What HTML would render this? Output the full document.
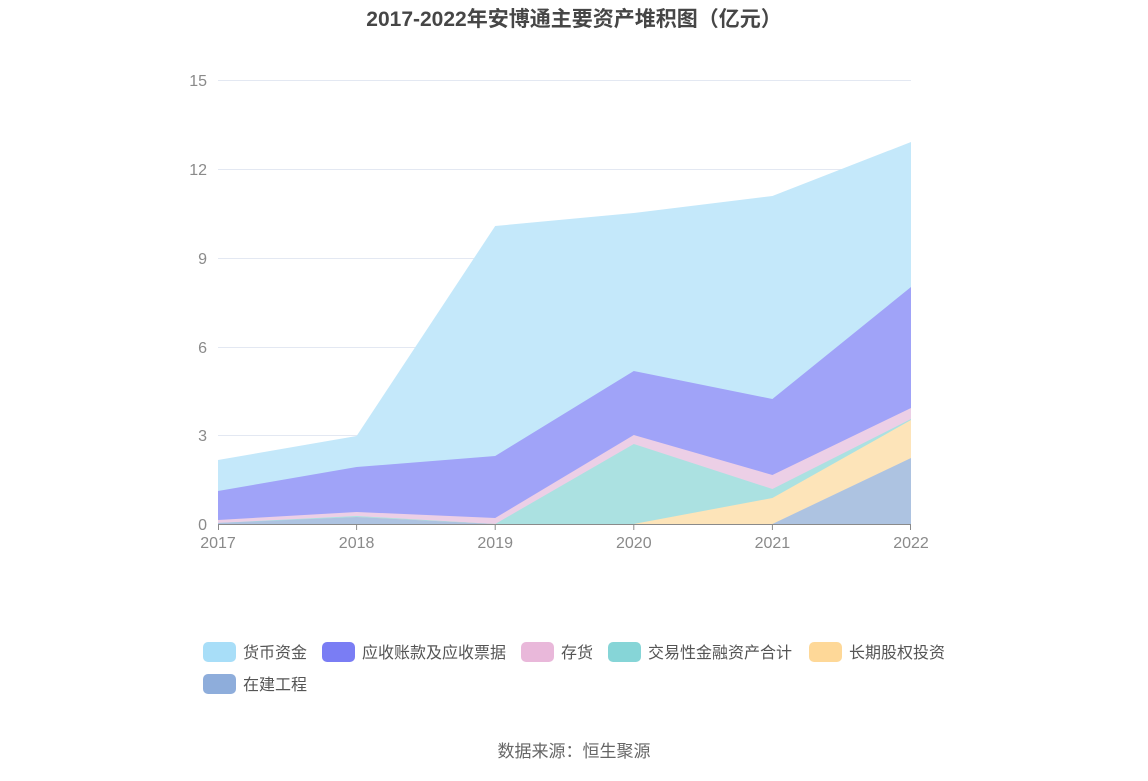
<!DOCTYPE html>
<html><head><meta charset="utf-8"><style>
body{margin:0;background:#fff;width:1148px;height:776px;overflow:hidden;font-family:"Liberation Sans","Noto Sans CJK SC",sans-serif;}
</style></head><body>
<svg width="1148" height="776" xmlns="http://www.w3.org/2000/svg" font-family="Liberation Sans, Noto Sans CJK SC, sans-serif">
<text x="574" y="26" text-anchor="middle" font-size="21" font-weight="bold" fill="#464646">2017-2022年安博通主要资产堆积图（亿元）</text>
<g stroke="#e3e8f2" stroke-width="1">
<line x1="218" y1="80.5" x2="911" y2="80.5"/><line x1="218" y1="169.5" x2="911" y2="169.5"/>
<line x1="218" y1="258.5" x2="911" y2="258.5"/><line x1="218" y1="347.5" x2="911" y2="347.5"/>
<line x1="218" y1="435.5" x2="911" y2="435.5"/>
</g>
<g font-size="16" fill="#8a8a8a" text-anchor="end">
<text x="207" y="86">15</text><text x="207" y="175">12</text><text x="207" y="264">9</text>
<text x="207" y="353">6</text><text x="207" y="441">3</text><text x="207" y="530">0</text>
</g>
<polygon fill="#c4e8fa" points="218,460 356.6,436 495.2,226 633.8,213 772.4,196 911,142 911,524 218,524"/>
<polygon fill="#a0a3f8" points="218,491 356.6,467 495.2,456 633.8,371 772.4,399 911,287 911,524 218,524"/>
<polygon fill="#eccfe6" points="218,520 356.6,512 495.2,518 633.8,435 772.4,475 911,408 911,524 218,524"/>
<polygon fill="#abe1e1" points="218,523 356.6,516 495.2,524 633.8,444 772.4,489 911,419 911,524 218,524"/>
<polygon fill="#fde4b9" points="218,524 356.6,517 495.2,524 633.8,524 772.4,498 911,420 911,524 218,524"/>
<polygon fill="#adc3e1" points="218,523 356.6,517 495.2,524 633.8,524 772.4,524 911,458 911,524 218,524"/>
<line x1="218" y1="524.5" x2="911" y2="524.5" stroke="#8a8a8a"/>
<g stroke="#8a8a8a">
<line x1="218.5" y1="524" x2="218.5" y2="530"/><line x1="356.6" y1="524" x2="356.6" y2="530"/>
<line x1="495.2" y1="524" x2="495.2" y2="530"/><line x1="633.8" y1="524" x2="633.8" y2="530"/>
<line x1="772.4" y1="524" x2="772.4" y2="530"/><line x1="910.5" y1="524" x2="910.5" y2="530"/>
</g>
<g font-size="16" fill="#8a8a8a" text-anchor="middle">
<text x="218" y="548">2017</text><text x="356.6" y="548">2018</text><text x="495.2" y="548">2019</text>
<text x="633.8" y="548">2020</text><text x="772.4" y="548">2021</text><text x="911" y="548">2022</text>
</g>
<g font-size="16" fill="#555">
<rect x="203" y="642" width="33" height="20" rx="5" fill="#a8def8"/><text x="243" y="658">货币资金</text>
<rect x="322" y="642" width="33" height="20" rx="5" fill="#7a7df4"/><text x="362" y="658">应收账款及应收票据</text>
<rect x="521" y="642" width="33" height="20" rx="5" fill="#e9b8da"/><text x="561" y="658">存货</text>
<rect x="608" y="642" width="33" height="20" rx="5" fill="#86d5d7"/><text x="648" y="658">交易性金融资产合计</text>
<rect x="809" y="642" width="33" height="20" rx="5" fill="#fed898"/><text x="849" y="658">长期股权投资</text>
<rect x="203" y="674" width="33" height="20" rx="5" fill="#8eaddb"/><text x="243" y="690">在建工程</text>
</g>
<text x="574" y="757" text-anchor="middle" font-size="17" fill="#666">数据来源：恒生聚源</text>
</svg>
</body></html>
